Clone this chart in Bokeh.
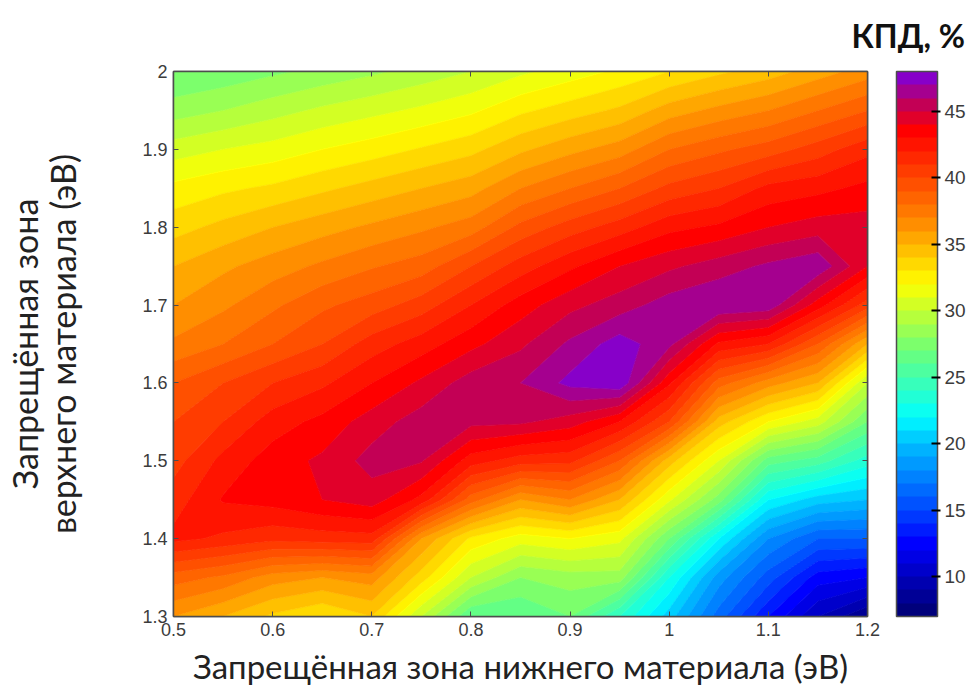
import numpy as np
from bokeh.plotting import figure
from bokeh.embed import file_html
from bokeh.resources import INLINE
from bokeh.models import (ColorBar, FixedTicker, LinearAxis, LinearColorMapper, Title)

# Band gap grids (eV)
bottom_gap = [0.50, 0.55, 0.60, 0.65, 0.70, 0.75, 0.80, 0.85, 0.90, 0.95, 1.00, 1.05, 1.10, 1.15, 1.20]
top_gap = [1.30, 1.35, 1.40, 1.45, 1.50, 1.55, 1.60, 1.65, 1.70, 1.75, 1.80, 1.85, 1.90, 1.95, 2.00]

# Efficiency (%), one list per top_gap row
eff_130 = [36.0, 35.0, 33.8, 33.0, 34.0, 30.0, 26.0, 26.0, 27.0, 24.0, 20.5, 16.5, 13.0, 10.0, 8.0]
eff_135 = [38.5, 37.8, 36.5, 36.0, 36.5, 33.5, 30.0, 28.0, 28.5, 28.5, 23.0, 18.5, 15.5, 12.5, 12.0]
eff_140 = [42.3, 41.8, 41.3, 41.5, 41.6, 36.0, 32.8, 31.5, 32.0, 31.3, 27.0, 22.0, 18.0, 16.0, 16.0]
eff_145 = [41.5, 43.1, 43.4, 44.0, 44.5, 42.7, 38.5, 36.0, 37.0, 35.0, 31.2, 27.5, 22.0, 20.5, 20.0]
eff_150 = [40.6, 42.3, 43.5, 44.2, 45.4, 45.1, 42.5, 41.5, 41.3, 39.0, 34.5, 31.0, 26.5, 25.5, 23.5]
eff_155 = [40.0, 41.0, 42.5, 43.3, 44.5, 45.5, 45.3, 45.2, 44.5, 43.0, 40.0, 34.5, 32.0, 30.5, 27.0]
eff_160 = [39.0, 40.0, 41.0, 41.8, 43.0, 44.2, 45.5, 46.0, 47.3, 47.8, 43.2, 38.5, 36.5, 35.0, 30.0]
eff_165 = [37.2, 38.0, 39.0, 40.0, 41.5, 42.5, 43.7, 44.8, 46.2, 47.5, 46.3, 42.8, 42.0, 39.0, 35.0]
eff_170 = [36.0, 36.8, 37.8, 38.8, 39.5, 40.5, 42.0, 43.5, 44.7, 45.5, 46.5, 47.0, 46.7, 43.5, 40.5]
eff_175 = [35.0, 35.8, 36.5, 37.2, 37.9, 38.5, 40.0, 41.5, 42.8, 44.0, 44.8, 45.5, 46.2, 46.8, 44.0]
eff_180 = [33.6, 34.3, 35.0, 35.6, 36.2, 36.8, 37.5, 39.3, 40.5, 41.5, 42.7, 43.2, 44.0, 44.5, 44.5]
eff_185 = [32.3, 32.8, 33.2, 33.8, 34.4, 35.0, 35.6, 37.0, 38.0, 39.0, 40.3, 41.0, 42.3, 42.7, 43.3]
eff_190 = [30.5, 31.0, 31.4, 32.0, 32.5, 33.1, 33.7, 34.8, 35.7, 36.5, 38.0, 38.8, 39.5, 40.5, 41.7]
eff_195 = [28.5, 29.0, 29.6, 30.2, 30.7, 31.2, 31.8, 32.8, 33.5, 34.2, 35.5, 36.3, 37.0, 38.0, 39.0]
eff_200 = [27.0, 27.3, 27.8, 28.3, 28.8, 29.4, 30.0, 30.8, 31.5, 32.2, 33.0, 33.8, 34.5, 35.5, 36.5]

x_ticks = [0.5, 0.6, 0.7, 0.8, 0.9, 1.0, 1.1, 1.2]
x_tick_labels = ["0.5", "0.6", "0.7", "0.8", "0.9", "1", "1.1", "1.2"]
y_ticks = [1.3, 1.4, 1.5, 1.6, 1.7, 1.8, 1.9, 2.0]
y_tick_labels = ["1.3", "1.4", "1.5", "1.6", "1.7", "1.8", "1.9", "2"]
bar_ticks = [10, 15, 20, 25, 30, 35, 40, 45]

x_title = "Запрещённая зона нижнего материала (эВ)"
y_title_outer = "Запрещённая зона"
y_title_inner = "верхнего материала (эВ)"
bar_title = "КПД, %"

# Colour scale
scale_values = [7, 10, 12.5, 15, 20, 22, 27, 32, 37, 43.5, 45.5, 48]
scale_r = [0, 0, 0, 0, 0, 0, 110, 255, 255, 255, 195, 120]
scale_g = [0, 0, 0, 70, 190, 255, 255, 255, 130, 0, 0, 0]
scale_b = [110, 190, 255, 255, 255, 255, 120, 0, 0, 0, 85, 230]

levels = list(np.arange(7.0, 48.01, 1.0))


def colour_at(v):
    r = int(np.interp(v, scale_values, scale_r))
    g = int(np.interp(v, scale_values, scale_g))
    b = int(np.interp(v, scale_values, scale_b))
    return f"#{r:02x}{g:02x}{b:02x}"


band_colours = [colour_at((a + b) / 2) for a, b in zip(levels[:-1], levels[1:])]
line_colours = [colour_at(v) for v in levels]

z = np.array([eff_130, eff_135, eff_140, eff_145, eff_150, eff_155, eff_160, eff_165,
              eff_170, eff_175, eff_180, eff_185, eff_190, eff_195, eff_200])
X, Y = np.meshgrid(bottom_gap, top_gap)

INK = "#4d4d4d"
TICK_TEXT = "#3c3c3c"
TEXT_FONT = "Lato"
TEXT_COLOUR = "#222222"

p = figure(frame_width=694, frame_height=545, x_range=(0.5, 1.2), y_range=(1.3, 2.0),
           output_backend="svg", toolbar_location=None,
           min_border_left=173, min_border_right=95, min_border_top=71, min_border_bottom=70)
p.grid.visible = False
p.outline_line_color = INK
p.outline_line_width = 1.5
p.background_fill_color = "white"

p.contour(X, Y, z, levels=levels, fill_color=band_colours, line_color=line_colours, line_width=1)

for ax, ticks, labels in ((p.xaxis[0], x_ticks, x_tick_labels), (p.yaxis[0], y_ticks, y_tick_labels)):
    ax.ticker = FixedTicker(ticks=ticks)
    ax.major_label_overrides = dict(zip(ticks, labels))
    ax.major_tick_in = 5
    ax.major_tick_out = 0
    ax.minor_tick_line_color = None
    ax.major_tick_line_color = INK
    ax.axis_line_color = INK
    ax.axis_line_width = 1.5
    ax.major_label_text_font = "Liberation Sans"
    ax.major_label_text_font_size = "18px"
    ax.major_label_text_color = TICK_TEXT
    ax.major_label_standoff = 6

p.xaxis[0].axis_label = x_title
p.xaxis[0].axis_label_text_font = TEXT_FONT
p.xaxis[0].axis_label_text_font_style = "normal"
p.xaxis[0].axis_label_text_font_size = "33px"
p.xaxis[0].axis_label_text_color = TEXT_COLOUR
p.xaxis[0].axis_label_standoff = 7

p.yaxis[0].axis_label = y_title_inner
p.yaxis[0].axis_label_text_font = TEXT_FONT
p.yaxis[0].axis_label_text_font_style = "normal"
p.yaxis[0].axis_label_text_font_size = "34px"
p.yaxis[0].axis_label_text_color = TEXT_COLOUR
p.yaxis[0].axis_label_standoff = 56

outer = LinearAxis(ticker=FixedTicker(ticks=[]), axis_line_color=None, major_tick_line_color=None,
                   minor_tick_line_color=None, axis_label=y_title_outer, axis_label_text_font=TEXT_FONT,
                   axis_label_text_font_style="normal", axis_label_text_font_size="34px",
                   axis_label_text_color=TEXT_COLOUR, axis_label_standoff=-5)
p.add_layout(outer, "left")

for loc, ticks in (("above", x_ticks), ("right", y_ticks)):
    mirror = LinearAxis(ticker=FixedTicker(ticks=ticks),
                        major_label_overrides={t: "" for t in ticks},
                        major_tick_in=5, major_tick_out=0, minor_tick_line_color=None,
                        major_tick_line_color=INK, axis_line_color=INK, axis_line_width=1.5)
    p.add_layout(mirror, loc)

mapper = LinearColorMapper(palette=band_colours, low=levels[0], high=levels[-1])
bar = ColorBar(color_mapper=mapper, ticker=FixedTicker(ticks=bar_ticks), width=41, height=545,
               padding=0, margin=0, location=(29, 0),
               bar_line_color=INK, bar_line_width=1.5,
               major_tick_in=6, major_tick_out=3, major_tick_line_color="#000000", major_tick_line_width=2,
               minor_tick_line_color=None,
               major_label_text_font="Liberation Sans", major_label_text_font_size="19px",
               major_label_text_color=TICK_TEXT, label_standoff=4)
p.add_layout(bar, "right")

p.add_layout(Title(text=bar_title, align="left", offset=678, standoff=29, vertical_align="top",
                   text_font=TEXT_FONT, text_font_size="32px", text_font_style="bold",
                   text_color="#111111"), "above")

open("out.html", "w").write(file_html(p, INLINE))
